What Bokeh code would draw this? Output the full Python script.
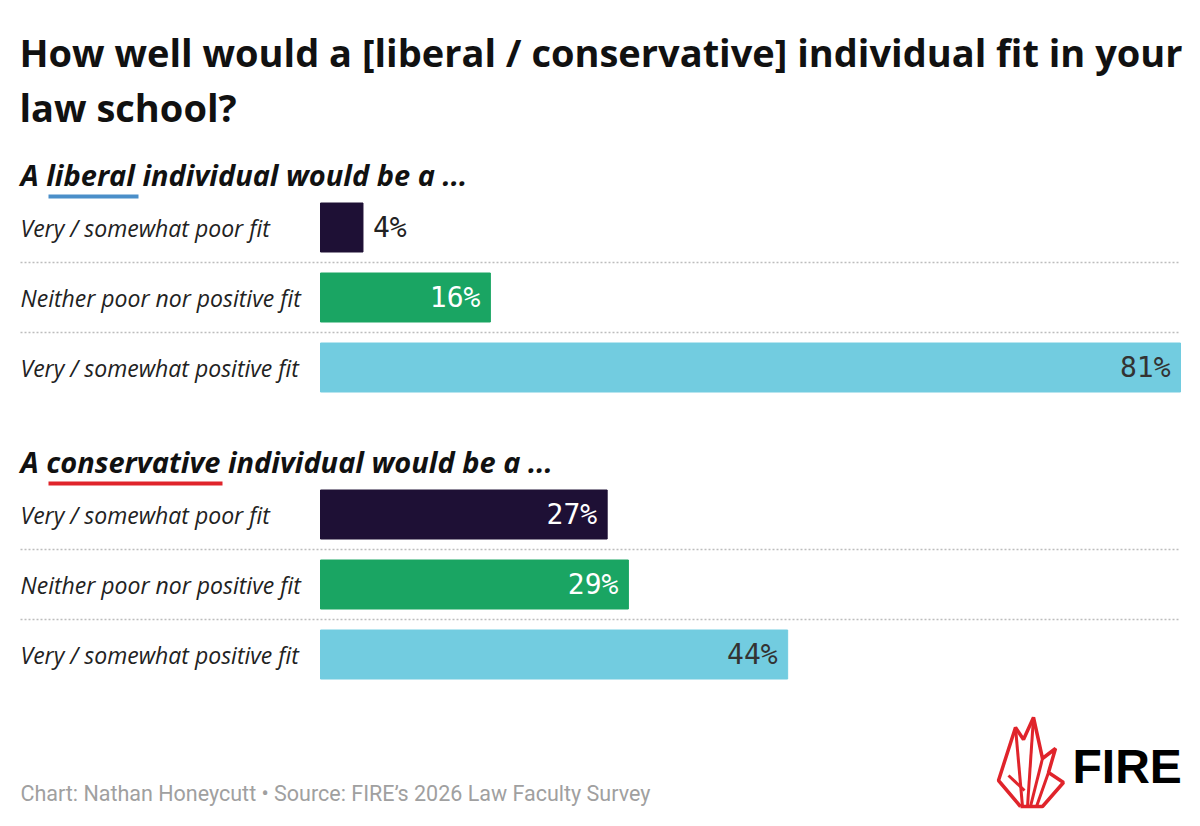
from bokeh.plotting import figure
from bokeh.models import Range1d, Label, ColumnDataSource
from bokeh.core.properties import value
from bokeh.embed import file_html
from bokeh.resources import INLINE

# ---- data ----
categories = ["Very / somewhat poor fit", "Neither poor nor positive fit", "Very / somewhat positive fit"]
liberal_vals = [4, 16, 81]
conservative_vals = [27, 29, 44]
bar_colors = ["#1e1035", "#1aa563", "#72cce0"]
label_colors = ["#ffffff", "#ffffff", "#333333"]
title_lines = ["How well would a [liberal / conservative] individual fit in your", "law school?"]
group_words = ["liberal", "conservative"]
underline_colors = ["#4b8fc9", "#e0242b"]
footer = "Chart: Nathan Honeycutt \u2022 Source: FIRE\u2019s 2026 Law Faculty Survey"

# ---- layout (page pixels) ----
W, H = 1192, 818
ZERO_PX, FULL_PX, FULL_VAL = 320, 1180, 81
k = (FULL_PX - ZERO_PX) / FULL_VAL
X0 = -ZERO_PX / k
X1 = X0 + W / k

def pct(px):
    return X0 + px / k

p = figure(width=W, height=H, output_backend="svg", toolbar_location=None,
           x_range=Range1d(X0, X1), y_range=Range1d(H, 0),
           min_border=0, outline_line_color=None)
p.axis.visible = False
p.grid.visible = False
p.background_fill_color = "white"
p.border_fill_color = "white"

# title
for i, t in enumerate(title_lines):
    p.add_layout(Label(x=19, x_units="screen", y=51 + i * 55, text=t,
                       text_font="Open Sans", text_font_style="bold",
                       text_font_size="38px", text_color="#111111",
                       text_baseline="middle"))

group_top = [227, 514]
sub_mid = [174, 461]
underline_y = [196, 483]
underline_x = [(48, 138), (48, 222)]
row_step = 70
bar_h = 49

for g, vals in enumerate([liberal_vals, conservative_vals]):
    word = group_words[g]
    p.add_layout(Label(x=20, x_units="screen", y=sub_mid[g],
                       text=f"A {word} individual would be a ...",
                       text_font="Open Sans", text_font_style="bold italic",
                       text_font_size="29px", text_color="#111111",
                       text_baseline="middle"))
    ux0, ux1 = underline_x[g]
    p.segment(x0=[pct(ux0)], x1=[pct(ux1)], y0=[underline_y[g]], y1=[underline_y[g]],
              line_color=underline_colors[g], line_width=4)

    ys = [group_top[g] + i * row_step for i in range(len(vals))]
    src = ColumnDataSource(dict(y=ys, right=vals, color=bar_colors))
    p.hbar(y="y", left=0, right="right", height=bar_h, color="color", source=src)

    # separators
    seps = [ys[i] + row_step / 2 for i in range(len(vals) - 1)]
    p.segment(x0=[pct(20)] * len(seps), x1=[pct(1180)] * len(seps), y0=seps, y1=seps,
              line_color="#bdbdbd", line_width=1.3, line_dash="2 2")

    for i, (cat, v) in enumerate(zip(categories, vals)):
        p.add_layout(Label(x=20, x_units="screen", y=ys[i], text=cat,
                           text_font="Open Sans", text_font_style="italic",
                           text_font_size="23px", text_color="#222222",
                           text_baseline="middle"))
        inside = v >= 8
        p.text(x=[v], y=[ys[i]], text=[f"{v}%"],
               text_font=value("DejaVu Sans Mono"), text_font_size="28px",
               text_color=label_colors[i] if inside else "#222222",
               text_align="right" if inside else "left",
               text_baseline="middle", x_offset=-10 if inside else 10)

# footer
p.add_layout(Label(x=20, x_units="screen", y=793, text=footer,
                   text_font="Roboto", text_font_size="21.5px",
                   text_color="#a0a0a0", text_baseline="middle"))

# FIRE logo (decoration)
flame_x = [1020, 998, 1015, 1023, 1033, 1042, 1055, 1048, 1063, 1042, 1020]
flame_y = [806, 780, 727, 739, 717, 758, 748, 772, 782, 806, 806]
p.line([pct(v) for v in flame_x], flame_y, line_color="#e0242b", line_width=3.5)
inner = [([1015, 1022], [727, 806]), ([1033, 1027], [717, 806]), ([1008, 1024], [775, 790]),
         ([1042, 1030], [758, 806]), ([1048, 1036], [772, 806])]
for xs, ys_ in inner:
    p.line([pct(v) for v in xs], ys_, line_color="#e0242b", line_width=3)
p.add_layout(Label(x=1072, x_units="screen", y=766, text="FIRE",
                   text_font="Liberation Sans", text_font_style="bold",
                   text_font_size="48px", text_color="#000000",
                   text_baseline="middle"))

open("out.html", "w").write(file_html(p, INLINE))
